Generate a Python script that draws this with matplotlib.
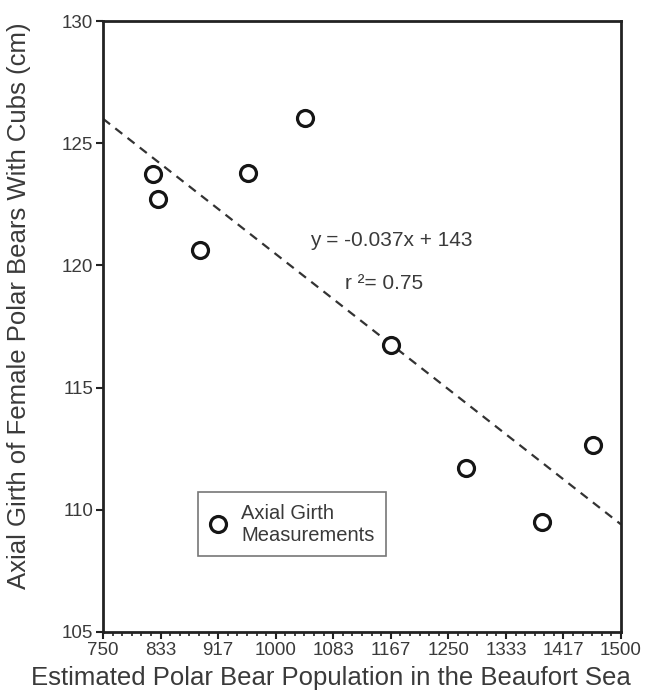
import matplotlib

matplotlib.use("Agg")
import matplotlib.pyplot as plt
import numpy as np
from matplotlib.ticker import FixedLocator

plt.rcParams["font.family"] = ["Liberation Sans", "DejaVu Sans"]

# population estimates vs axial girth
population = [822, 830, 890, 960, 1042, 1167, 1276, 1386, 1459]
girth = [123.75, 122.72, 120.63, 123.78, 126.03, 116.74, 111.71, 109.5, 112.65]

# dashed regression line, endpoints
fit_x = [750, 1500]
fit_y = [126.0, 109.4]

x_tick_labels = ["750", "833", "917", "1000", "1083", "1167", "1250", "1333", "1417", "1500"]
y_ticks = [105, 110, 115, 120, 125, 130]

TEXT = "#3a3a3a"
DARK = "#222222"


def main() -> None:
    fig = plt.figure(figsize=(6.63, 6.96), dpi=100)
    ax = fig.add_axes([0.1554, 0.092, 0.7813, 0.8778])

    ax.plot(fit_x, fit_y, linestyle=(0, (4, 3)), color="#333333", lw=1.6, zorder=2)
    ax.plot(population, girth, linestyle="none", marker="o", ms=11.5,
            mfc="white", mec="#151515", mew=2.3, zorder=3,
            label="Axial Girth\nMeasurements")

    ax.set_xlim(750, 1500)
    ax.set_ylim(105, 130)

    major_x = np.linspace(750, 1500, len(x_tick_labels))
    ax.xaxis.set_major_locator(FixedLocator(major_x))
    ax.set_xticklabels(x_tick_labels)
    ax.xaxis.set_minor_locator(FixedLocator(np.linspace(750, 1500, 6 * (len(x_tick_labels) - 1) + 1)))
    ax.set_yticks(y_ticks)

    ax.tick_params(axis="both", which="major", direction="out", length=5, width=1.5,
                   color=DARK, labelcolor=TEXT, labelsize=13.5, pad=2)
    ax.tick_params(axis="x", which="minor", direction="out", length=3, width=1.2, color=DARK)

    for side in ax.spines.values():
        side.set_linewidth(2)
        side.set_color(DARK)

    ax.set_xlabel("Estimated Polar Bear Population in the Beaufort Sea",
                  fontsize=18.5, color=TEXT)
    ax.xaxis.set_label_coords(0.44, -0.056)
    ax.set_ylabel("Axial Girth of Female Polar Bears With Cubs (cm)",
                  fontsize=18.5, color=TEXT)
    ax.yaxis.set_label_coords(-0.14, 0.534)

    ax.text(1168, 121.0, "y = -0.037x + 143", fontsize=15, color=TEXT,
            ha="center", va="center")
    ax.text(1100, 119.25, "r ²= 0.75", fontsize=15, color=TEXT,
            ha="left", va="center")

    leg = ax.legend(loc="lower left", bbox_to_anchor=(0.183, 0.125), borderaxespad=0,
                    fontsize=14.5, frameon=True, fancybox=False, handlelength=0.9,
                    handletextpad=0.7, borderpad=0.55, labelcolor=TEXT)
    leg.get_frame().set_edgecolor("#555555")
    leg.get_frame().set_linewidth(1.2)

    fig.savefig("out.png", dpi=100)


if __name__ == "__main__":
    main()
